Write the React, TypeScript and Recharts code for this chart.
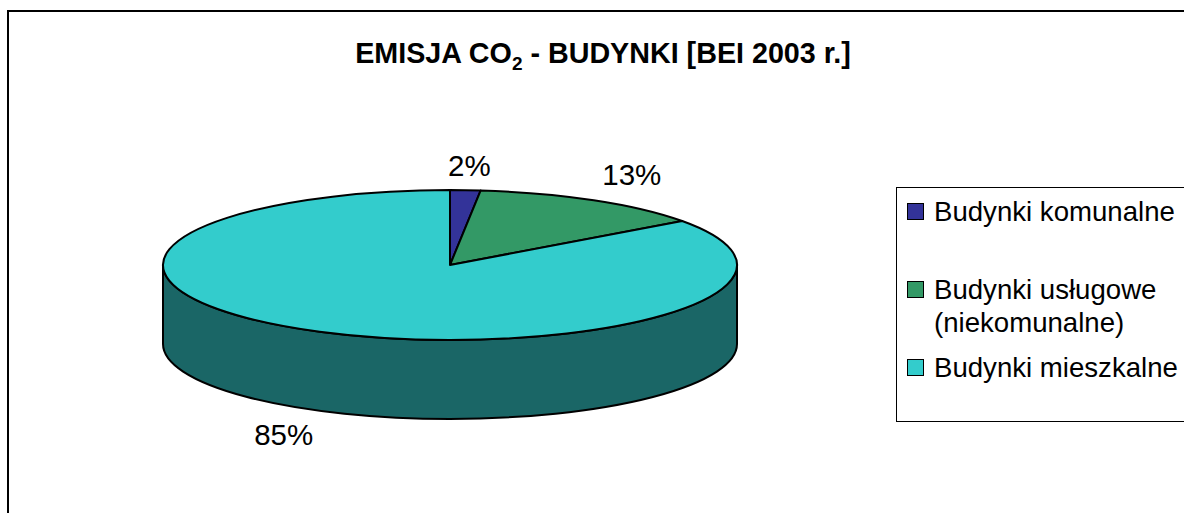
import React from "react";
import { PieChart, Pie, Cell, Legend } from "recharts";

// --- DATA ---
const CATEGORIES = ["Budynki komunalne", "Budynki usługowe (niekomunalne)", "Budynki mieszkalne"];
const SHARES = [1.7, 13.3, 85];
const TITLE_START = "EMISJA CO";
const TITLE_SUB = "2";
const TITLE_END = " - BUDYNKI [BEI 2003 r.]";

// --- COLORS ---
const TOP_COLORS = ["#333399", "#339966", "#33CCCC"];
const WALL_COLORS = ["#1A1A4D", "#1A4D33", "#1A6666"];

const tableData = CATEGORIES.map((name, i) => ({ name, value: SHARES[i] }));

// --- LAYOUT ---
const FONT = "'Liberation Sans', Arial, sans-serif";
const PIE_CX = 450;
const PIE_CY = 265;
const PIE_RX = 287;
const SQUASH = 0.261;
const DEPTH = 79;
const LABEL_SHIFT = [
  { dx: 4, dy: -14 },
  { dx: 38, dy: -15 },
  { dx: -36, dy: 113 },
];
const LEGEND_ROWS = [7, 85, 163];

const RAD = Math.PI / 180;

function arcPoint(cx: number, cy: number, r: number, angle: number) {
  return {
    x: cx + r * Math.cos(-angle * RAD),
    y: cy + r * SQUASH * Math.sin(-angle * RAD),
  };
}

// top face of the slice, the circular sector squashed into an ellipse
function TopSlice(props: any) {
  const { cx, cy, outerRadius: r, startAngle, endAngle, fill } = props;
  const a = arcPoint(cx, cy, r, startAngle);
  const b = arcPoint(cx, cy, r, endAngle);
  const large = Math.abs(startAngle - endAngle) > 180 ? 1 : 0;
  const d = `M${cx},${cy} L${a.x},${a.y} A${r},${r * SQUASH} 0 ${large} 1 ${b.x},${b.y} Z`;
  return <path d={d} fill={fill} stroke="#000" strokeWidth={2} strokeLinejoin="round" />;
}

// side wall, only the part of the slice on the front half is visible
function WallSlice(props: any) {
  const { cx, cy, outerRadius: r, startAngle, endAngle, fill } = props;
  const hi = Math.min(startAngle, 0);
  const lo = Math.max(endAngle, -180);
  if (hi <= lo) return null;
  const a = arcPoint(cx, cy, r, hi);
  const b = arcPoint(cx, cy, r, lo);
  const ry = r * SQUASH;
  const d = `M${a.x},${a.y} A${r},${ry} 0 0 1 ${b.x},${b.y} L${b.x},${b.y + DEPTH} A${r},${ry} 0 0 0 ${a.x},${a.y + DEPTH} Z`;
  return <path d={d} fill={fill} stroke="#000" strokeWidth={2} strokeLinejoin="round" />;
}

function SliceLabel(props: any) {
  const { cx, cy, outerRadius, midAngle, value, index } = props;
  const p = arcPoint(cx, cy, outerRadius, midAngle);
  const shift = LABEL_SHIFT[index];
  return (
    <text
      x={p.x + shift.dx}
      y={p.y + shift.dy}
      textAnchor="middle"
      fontFamily={FONT}
      fontSize={29.5}
      fill="#000"
    >
      {Math.round(value)}%
    </text>
  );
}

function LegendBox(props: any) {
  const items = props.payload.filter((entry: any) => entry.type !== "none");
  return (
    <div
      style={{
        position: "relative",
        width: 300,
        height: 235,
        boxSizing: "border-box",
        border: "1.5px solid #000",
        fontFamily: FONT,
        fontSize: 27.6,
        lineHeight: "33px",
        color: "#000",
      }}
    >
      {items.map((entry: any, i: number) => (
        <div key={entry.value} style={{ position: "absolute", left: 10, top: LEGEND_ROWS[i], width: 270 }}>
          <span
            style={{
              position: "absolute",
              left: 0,
              top: 8,
              width: 15,
              height: 15,
              background: entry.color,
              border: "1.5px solid #000",
            }}
          />
          <div style={{ marginLeft: 27, width: 250 }}>{entry.value}</div>
        </div>
      ))}
    </div>
  );
}

export default function App() {
  return (
    <div style={{ position: "absolute", left: 0, top: 0, width: 1184, height: 513, overflow: "hidden", background: "#fff" }}>
      <PieChart width={1184} height={513} margin={{ top: 0, right: 0, bottom: 0, left: 0 }}>
        <rect x={8} y={11} width={1300} height={600} fill="#fff" stroke="#000" strokeWidth={2} />
        <text x={603} y={63} textAnchor="middle" fontFamily={FONT} fontSize={28.7} fontWeight="bold" fill="#000">
          {TITLE_START}
          <tspan fontSize={19} dy={7}>{TITLE_SUB}</tspan>
          <tspan dy={-7}>{TITLE_END}</tspan>
        </text>
        <Pie
          data={tableData}
          dataKey="value"
          nameKey="name"
          cx={PIE_CX}
          cy={PIE_CY}
          outerRadius={PIE_RX}
          startAngle={90}
          endAngle={-270}
          paddingAngle={0}
          shape={WallSlice}
          legendType="none"
          isAnimationActive={false}
        >
          {tableData.map((entry, i) => (
            <Cell key={entry.name} fill={WALL_COLORS[i]} />
          ))}
        </Pie>
        <Pie
          data={tableData}
          dataKey="value"
          nameKey="name"
          cx={PIE_CX}
          cy={PIE_CY}
          outerRadius={PIE_RX}
          startAngle={90}
          endAngle={-270}
          paddingAngle={0}
          shape={TopSlice}
          label={SliceLabel}
          labelLine={false}
          isAnimationActive={false}
        >
          {tableData.map((entry, i) => (
            <Cell key={entry.name} fill={TOP_COLORS[i]} />
          ))}
        </Pie>
        <Legend
          layout="vertical"
          align="right"
          verticalAlign="top"
          itemSorter={null}
          wrapperStyle={{ left: 896, top: 187, width: 300, right: "auto" }}
          content={LegendBox}
        />
      </PieChart>
    </div>
  );
}
